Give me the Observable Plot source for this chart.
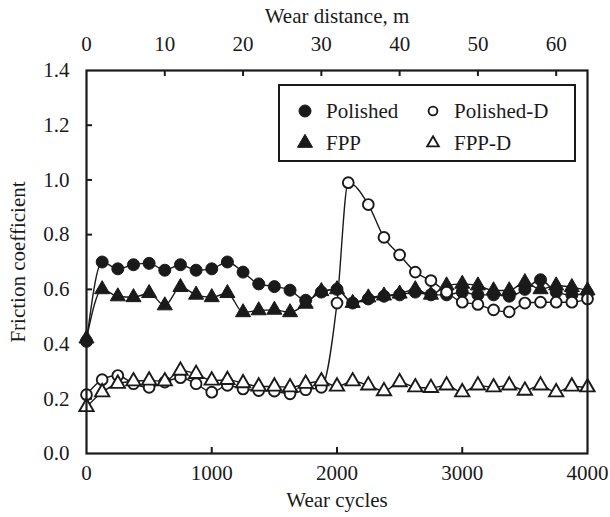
<!DOCTYPE html>
<html><head><meta charset="utf-8">
<script src="https://cdn.jsdelivr.net/npm/d3@7"></script>
<script src="https://cdn.jsdelivr.net/npm/@observablehq/plot@0.6"></script>
<style>
body{margin:0;background:#fff;}
#wrap{position:relative;width:610px;height:517px;}
#legend{position:absolute;left:278px;top:84px;}
</style></head><body><div id="wrap"></div>
<script>
// ---- data ----
const cycles = [0,125,250,375,500,625,750,875,1000,1125,1250,1375,1500,1625,1750,1875,2000,2125,2250,2375,2500,2625,2750,2875,3000,3125,3250,3375,3500,3625,3750,3875,4000];
const polishedDCycles = [0,125,250,375,500,625,750,875,1000,1125,1250,1375,1500,1625,1750,1875,2000,2090,2250,2375,2500,2625,2750,2875,3000,3125,3250,3375,3500,3625,3750,3875,4000];
const polished = [0.41,0.70,0.675,0.69,0.695,0.67,0.69,0.67,0.675,0.70,0.663,0.62,0.61,0.597,0.56,0.59,0.60,0.55,0.565,0.575,0.58,0.59,0.58,0.58,0.59,0.58,0.58,0.575,0.60,0.635,0.59,0.58,0.585];
const fpp = [0.42,0.60,0.574,0.571,0.586,0.541,0.608,0.58,0.571,0.586,0.516,0.523,0.525,0.516,0.547,0.593,0.60,0.55,0.57,0.577,0.584,0.60,0.58,0.614,0.62,0.614,0.596,0.596,0.626,0.60,0.614,0.608,0.596];
const polishedD = [0.215,0.27,0.285,0.255,0.242,0.261,0.277,0.255,0.224,0.249,0.236,0.230,0.228,0.218,0.233,0.242,0.55,0.99,0.91,0.79,0.726,0.663,0.632,0.59,0.553,0.545,0.525,0.518,0.55,0.553,0.553,0.553,0.565];
const fppD = [0.17,0.224,0.255,0.264,0.267,0.264,0.303,0.291,0.267,0.269,0.257,0.245,0.245,0.242,0.255,0.264,0.245,0.264,0.249,0.228,0.261,0.242,0.240,0.249,0.224,0.249,0.242,0.249,0.230,0.249,0.224,0.245,0.242];
const cycleTicks = [0,1000,2000,3000,4000];
const frictionTicks = [0,0.2,0.4,0.6,0.8,1.0,1.2,1.4];
const distanceTicks = [0,10,20,30,40,50,60];
const metersPerCycle = 0.016;
const seriesNames = ["Polished","Polished-D","FPP","FPP-D"];

// ---- styles ----
const INK = "#1a1a1a";
const FONT = "Liberation Serif, Times New Roman, serif";
const FS = 21;
const styleOf = {
  "Polished":   {symbol:"circle",   fill:INK,    stroke:INK, r:6,   sw:1},
  "FPP":        {symbol:"triangle", fill:INK,    stroke:INK, r:5.6, sw:1},
  "Polished-D": {symbol:"circle",   fill:"#fff", stroke:INK, r:5.4, sw:1.9},
  "FPP-D":      {symbol:"triangle", fill:"#fff", stroke:INK, r:5.3, sw:1.9}
};
const series = [
  {name:"Polished", x:cycles, y:polished},
  {name:"FPP", x:cycles, y:fpp},
  {name:"Polished-D", x:polishedDCycles, y:polishedD},
  {name:"FPP-D", x:cycles, y:fppD}
];

const W = 610, H = 517, mL = 86, mR = 23, mT = 70, mB = 64;
const plotW = W - mL - mR, plotH = H - mT - mB;
const tick = 6;

const marks = [];
for (const s of series) {
  const st = styleOf[s.name];
  const rows = s.y.map((v, i) => ({c: s.x[i], f: v}));
  marks.push(Plot.line(rows, {x:"c", y:"f", curve:"monotone-x", stroke:INK, strokeWidth:1.4}));
  marks.push(Plot.dot(rows, {x:"c", y:"f", symbol:st.symbol, r:st.r, fill:st.fill, stroke:st.stroke, strokeWidth:st.sw}));
}

const chart = Plot.plot({
  width: W, height: H,
  marginLeft: mL, marginRight: mR, marginTop: mT, marginBottom: mB,
  style: {fontFamily: FONT, fontSize: FS + "px", color: INK, background: "#fff"},
  x: {domain: [0, 4000]},
  y: {domain: [0, 1.4]},
  marks: [
    // inward ticks
    Plot.tickX(cycleTicks.slice(1, -1), {x: d => d, insetTop: plotH - tick, stroke: INK, strokeWidth: 2}),
    Plot.tickX(distanceTicks.slice(1).map(m => m / metersPerCycle), {x: d => d, insetBottom: plotH - tick, stroke: INK, strokeWidth: 2}),
    Plot.tickY(frictionTicks.slice(1, -1), {y: d => d, insetRight: plotW - tick, stroke: INK, strokeWidth: 2}),
    Plot.axisX(cycleTicks, {anchor: "bottom", tickSize: 0, tickPadding: 12, fontSize: FS, fontFamily: FONT, tickFormat: d => String(d), label: "Wear cycles", labelAnchor: "center", labelArrow: "none", labelOffset: 53}),
    Plot.axisX(distanceTicks.map(m => m / metersPerCycle), {anchor: "top", tickSize: 0, tickPadding: 20, fontSize: FS, fontFamily: FONT, tickFormat: c => String(Math.round(c * metersPerCycle)), label: "Wear distance, m", labelAnchor: "center", labelArrow: "none", labelOffset: 62}),
    Plot.axisY(frictionTicks, {anchor: "left", tickSize: 0, tickPadding: 17, fontSize: FS, fontFamily: FONT, tickFormat: d => d.toFixed(1), label: "Friction coefficient", labelAnchor: "center", labelArrow: "none", labelOffset: 76}),
    ...marks,
    Plot.frame({stroke: INK, strokeWidth: 2.2})
  ]
});
const wrap = document.getElementById("wrap");
wrap.appendChild(chart);

// ---- legend (overlay inside the plot) ----
const lw = 298, lh = 78;
const leg = d3.select(wrap).append("svg").attr("id", "legend").attr("width", lw).attr("height", lh);
leg.append("rect").attr("x", 1).attr("y", 1).attr("width", lw - 2).attr("height", lh - 2)
  .attr("fill", "#fff").attr("stroke", INK).attr("stroke-width", 2);
const legendPos = {"Polished": [0, 0], "Polished-D": [1, 0], "FPP": [0, 1], "FPP-D": [1, 1]};
for (const name of seriesNames) {
  const st = styleOf[name];
  const [col, row] = legendPos[name];
  const mx = 27 + col * 128, my = 27 + row * 32;
  const small = st.fill === "#fff";
  const area = Math.PI * Math.pow(small ? st.r - 1 : st.r, 2);
  leg.append("path")
    .attr("d", d3.symbol(st.symbol === "circle" ? d3.symbolCircle : d3.symbolTriangle, area)())
    .attr("transform", `translate(${mx},${my})`)
    .attr("fill", st.fill).attr("stroke", st.stroke).attr("stroke-width", st.sw);
  leg.append("text").attr("x", mx + 21).attr("y", my + 7)
    .attr("font-family", FONT).attr("font-size", FS).attr("fill", INK).text(name);
}
</script></body></html>
